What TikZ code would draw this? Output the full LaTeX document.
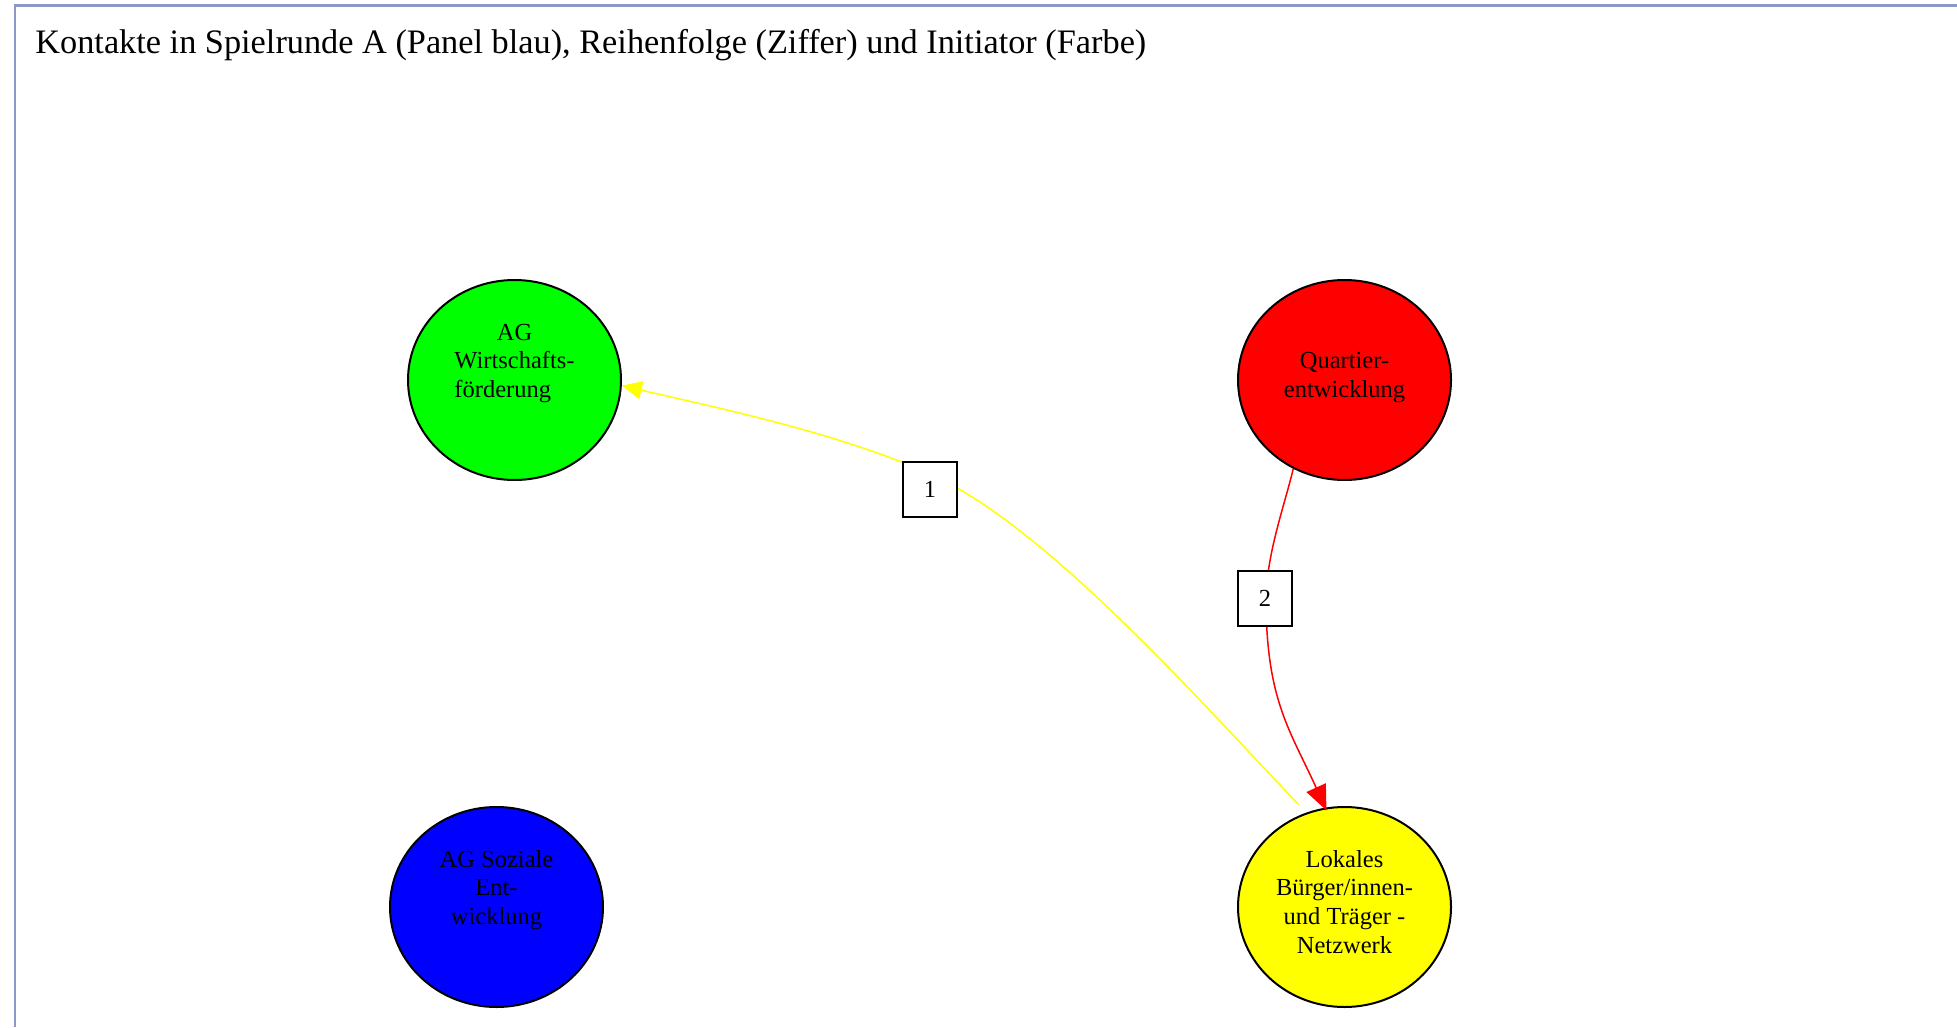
\documentclass[tikz,border=0pt]{standalone}
\usepackage{fontspec}
\setmainfont{Liberation Serif}
\usetikzlibrary{shapes.geometric,arrows.meta}
\definecolor{framecol}{RGB}{140,152,200}
\definecolor{nodegreen}{RGB}{0,255,0}
\definecolor{nodered}{RGB}{255,0,0}
\definecolor{nodeblue}{RGB}{0,0,255}
\definecolor{nodeyellow}{RGB}{255,255,0}
% line strut: fixed height/depth so every text line has the same box
\newcommand{\lnstrut}{\rule[-5.65pt]{0pt}{14.35pt}}
\begin{document}
\begin{tikzpicture}[x=0.5pt,y=-0.5pt,
  actor/.style={ellipse, draw=black, line width=1pt,
    minimum width=106.5pt, minimum height=100pt, inner sep=0pt,
    align=center, font=\fontsize{12.25}{14.35}\selectfont},
  order/.style={rectangle, draw=black, line width=0.9pt, fill=white,
    minimum width=27pt, minimum height=27.5pt, inner sep=0pt,
    font=\fontsize{12.25}{14.35}\selectfont},
  contact/.style={line width=0.75pt}]

\useasboundingbox (0,0) rectangle (1957,1027);

% panel frame
\draw[framecol, line width=1.3pt] (15,1027) -- (15,5.5) -- (1957,5.5);

% heading
\node[anchor=base west, inner sep=0pt, font=\fontsize{17.15}{20}\selectfont] (title) at (35,54)
  {Kontakte in Spielrunde A (Panel blau), Reihenfolge (Ziffer) und Initiator (Farbe)};

% actors
\node[actor, fill=nodegreen] (wf) at (514.5,380)
  {AG\lnstrut\\Wirtschafts-\lnstrut\\\rlap{förderung}\phantom{Wirtschafts-}\lnstrut\\\lnstrut};
\node[actor, fill=nodered] (qe) at (1344.5,380)
  {Quartier-\lnstrut\\entwicklung\lnstrut};
\node[actor, fill=nodeblue] (se) at (496.5,907)
  {AG Soziale\lnstrut\\Ent-\lnstrut\\wicklung\lnstrut\\\lnstrut};
\node[actor, fill=nodeyellow] (yl) at (1344.5,907)
  {Lokales\lnstrut\\Bürger/innen-\lnstrut\\und Träger -\lnstrut\\Netzwerk\lnstrut};

% points passed behind the order boxes
\coordinate (m1) at (930,474);
\coordinate (m2) at (1266,598);

% contacts
\draw[contact, color=nodeyellow, shorten <=5.5pt,
      -{Triangle[length=10pt,width=9pt]}] (yl.112)
  .. controls (1203,705) and (1048,527) .. (m1)
  .. controls (839,433) and (718,408) .. (wf.-3);
\draw[contact, color=nodered, shorten >=-1.5pt,
      -{Triangle[length=12.5pt,width=10.5pt]}] (qe.240)
  .. controls (1284,507) and (1267,553) .. (m2)
  .. controls (1266,700) and (1290,730) .. (yl.101.6);

% order of contacts
\node[order] (o1) at (930,489.5) {1};
\node[order] (o2) at (1265,598.5) {2};

\end{tikzpicture}
\end{document}
